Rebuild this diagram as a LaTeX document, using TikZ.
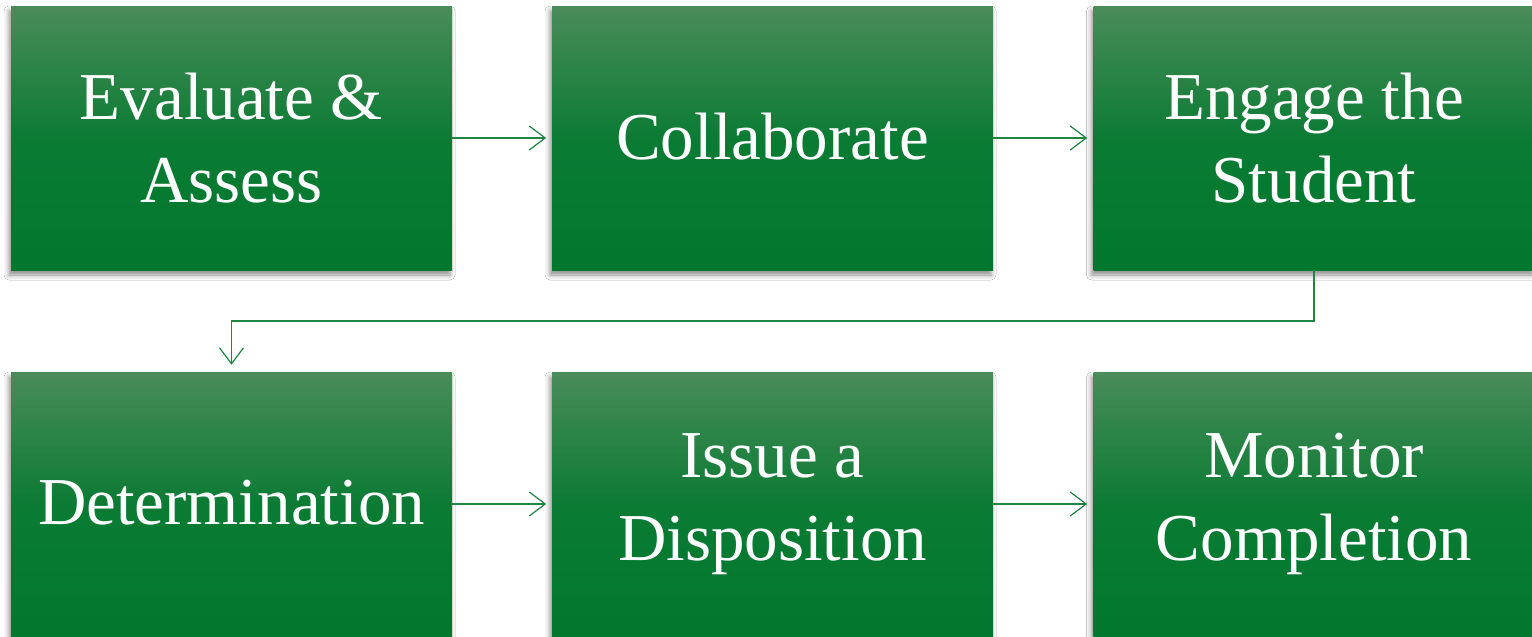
\documentclass[tikz,border=0pt]{standalone}
\usepackage{fontspec}
\setmainfont{Liberation Serif}
\usetikzlibrary{arrows.meta,shadows.blur}
\definecolor{gtop}{RGB}{74,140,90}
\definecolor{gbot}{RGB}{0,120,45}
\definecolor{arr}{RGB}{30,135,65}
\tikzset{
  stepbox/.style={rectangle, minimum width=441pt, minimum height=264pt, inner sep=0pt,
    top color=gtop, bottom color=gbot, middle color=gbot!85!gtop, shading angle=0,
    text=white, align=center, font=\fontsize{67}{83}\selectfont,
    blur shadow={shadow xshift=-2pt, shadow yshift=-5pt, shadow blur radius=5pt, shadow opacity=45}},
  link/.style={draw=arr, line width=1.2pt, -{Straight Barb[length=16pt,width=24pt,line width=1.2pt]}}
}
\begin{document}
\begin{tikzpicture}[x=1pt,y=-1pt]
\useasboundingbox (0,0) rectangle (1532,637);
\fill[white] (0,0) rectangle (1532,637);
\node[stepbox] (a) at (231.5,138) {\raisebox{3pt}{\parbox{441pt}{\centering Evaluate \&\\Assess}}};
\node[stepbox] (b) at (772.5,138) {\raisebox{3pt}{Collaborate}};
\node[stepbox] (c) at (1314,138) {\raisebox{3pt}{\parbox{441pt}{\centering Engage the\\Student}}};
\node[stepbox] (d) at (231.5,504) {\raisebox{3pt}{Determination}};
\node[stepbox] (e) at (772.5,504) {\raisebox{3pt}{\parbox{441pt}{\centering Issue a\\Disposition}}};
\node[stepbox] (f) at (1314,504) {\raisebox{3pt}{\parbox{441pt}{\centering Monitor\\Completion}}};
\draw[link] (a.east) -- ++(94,0);
\draw[link] (b.east) -- ++(94,0);
\draw[link] (d.east) -- ++(94,0);
\draw[link] (e.east) -- ++(94,0);
\coordinate (m) at (1314,321);
\draw[link] (c.south) -- (m) -| ([yshift=7pt]d.north);
\end{tikzpicture}
\end{document}
